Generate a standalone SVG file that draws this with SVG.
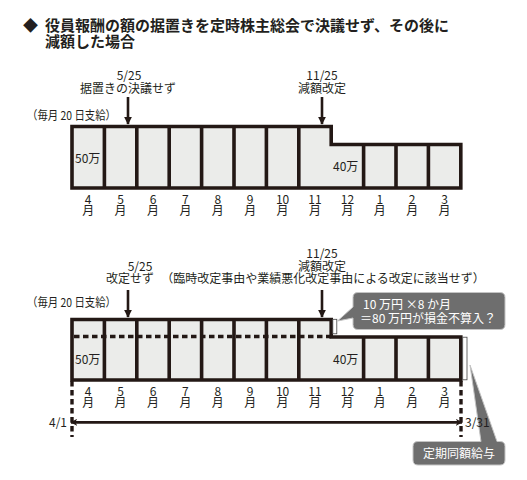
<svg xmlns="http://www.w3.org/2000/svg" width="527" height="480" viewBox="0 0 527 480">
<style>
text{font-family:"Noto Sans CJK JP","Noto Sans",sans-serif;fill:#231f20}
.t{font-size:15px;font-weight:bold}
.s{font-size:12px}
.m{font-size:12px;text-anchor:middle}
.w{font-size:12px;fill:#fff}
.box{fill:#ebecea;stroke:#231815;stroke-width:3.6;stroke-linejoin:miter}
.div{stroke:#231815;stroke-width:3.6}
.dash{stroke:#231815;stroke-width:3.4;stroke-dasharray:5.5 3.5;fill:none}
.arr{stroke:#231815;stroke-width:2.6;fill:none}
.wr{fill:#fff;stroke:#444;stroke-width:0.8}
.call{fill:#6e6e6e;stroke:#c4c4c4;stroke-width:1}
</style>
<defs>
<marker id="ah" viewBox="0 0 10 10" refX="9" refY="5" markerWidth="8" markerHeight="8" markerUnits="userSpaceOnUse" orient="auto">
<path d="M0,0 L10,5 L0,10 Z" fill="#231815"/>
</marker>
<marker id="ah2" viewBox="0 0 10 10" refX="9" refY="5" markerWidth="7" markerHeight="7" markerUnits="userSpaceOnUse" orient="auto-start-reverse">
<path d="M0,0 L10,5 L0,10 L3,5 Z" fill="#231815"/>
</marker>
</defs>
<rect width="527" height="480" fill="#fff"/>

<g id="title">
<text class="t" x="23" y="31">◆</text>
<text class="t" x="45" y="31">役員報酬の額の据置きを定時株主総会で決議せず、その後に</text>
<text class="t" x="45" y="47">減額した場合</text>
</g>

<!-- Chart 1 -->
<g id="chart1">
<polygon class="box" points="72,126.5 331.2,126.5 331.2,144.5 460.8,144.5 460.8,188 72,188"/>
<path class="div" d="M104.4,126.5V188M136.8,126.5V188M169.2,126.5V188M201.6,126.5V188M234,126.5V188M266.4,126.5V188M298.8,126.5V188M363.6,144.5V188M396,144.5V188M428.4,144.5V188"/>
<text class="s" x="75" y="163">50万</text>
<text class="s" x="333" y="170.5">40万</text>
</g>
<g id="chart1-labels">
<text class="s" x="27" y="120" textLength="89" lengthAdjust="spacingAndGlyphs">（毎月 20 日支給）</text>
<text class="m" x="129" y="80">5/25</text>
<text class="m" x="128" y="93">据置きの決議せず</text>
<text class="m" x="322" y="80">11/25</text>
<text class="m" x="322" y="93">減額改定</text>
</g>
<g id="chart1-months">
<text class="m" x="88.2" y="203.5">4<tspan x="88.2" dy="11">月</tspan></text>
<text class="m" x="120.6" y="203.5">5<tspan x="120.6" dy="11">月</tspan></text>
<text class="m" x="153" y="203.5">6<tspan x="153" dy="11">月</tspan></text>
<text class="m" x="185.4" y="203.5">7<tspan x="185.4" dy="11">月</tspan></text>
<text class="m" x="217.8" y="203.5">8<tspan x="217.8" dy="11">月</tspan></text>
<text class="m" x="250.2" y="203.5">9<tspan x="250.2" dy="11">月</tspan></text>
<text class="m" x="282.6" y="203.5">10<tspan x="282.6" dy="11">月</tspan></text>
<text class="m" x="315" y="203.5">11<tspan x="315" dy="11">月</tspan></text>
<text class="m" x="347.4" y="203.5">12<tspan x="347.4" dy="11">月</tspan></text>
<text class="m" x="379.8" y="203.5">1<tspan x="379.8" dy="11">月</tspan></text>
<text class="m" x="412.2" y="203.5">2<tspan x="412.2" dy="11">月</tspan></text>
<text class="m" x="444.6" y="203.5">3<tspan x="444.6" dy="11">月</tspan></text>
</g>

<!-- Chart 2 -->
<g id="chart2">
<polygon class="box" points="72,319.5 331.2,319.5 331.2,337 460.8,337 460.8,380 72,380"/>
<path class="div" d="M104.4,319.5V380M136.8,319.5V380M169.2,319.5V380M201.6,319.5V380M234,319.5V380M266.4,319.5V380M298.8,319.5V380M363.6,337V380M396,337V380M428.4,337V380"/>
<line class="dash" x1="74" y1="336.5" x2="331" y2="336.5"/>
<rect class="wr" x="332.8" y="319.3" width="4" height="14.5"/>
<rect class="wr" x="462.7" y="337.2" width="4.3" height="42.6"/>
<text class="s" x="75" y="364">50万</text>
<text class="s" x="333" y="363.5">40万</text>
</g>

<g id="callout-loss">
<path class="call" d="M358,292.5H500Q505,292.5 505,297.5V324.5Q505,329.5 500,329.5H358Q353,329.5 353,324.5V318L337.5,321L353,307V297.5Q353,292.5 358,292.5Z"/>
<text class="w" x="363" y="309">10 万円 ×8 か月</text>
<text class="w" x="360" y="323">＝80 万円が損金不算入？</text>
</g>
<g id="callout-teiki">
<path class="call" d="M418,441.5H481L470,365L497,441.5H500Q505,441.5 505,446.5V460Q505,465 500,465H418Q413,465 413,460V446.5Q413,441.5 418,441.5Z"/>
<text class="w" x="459" y="458" text-anchor="middle">定期同額給与</text>
</g>

<g id="chart2-labels">
<text class="s" x="27" y="307" textLength="89" lengthAdjust="spacingAndGlyphs">（毎月 20 日支給）</text>
<text class="m" x="140" y="270.5">5/25</text>
<text class="m" x="130" y="282.5">改定せず</text>
<text class="m" x="322" y="257.5">11/25</text>
<text class="m" x="322" y="270.5">減額改定</text>
<text class="m" x="323" y="283">（臨時改定事由や業績悪化改定事由による改定に該当せず）</text>
<text class="s" x="67" y="427" text-anchor="end">4/1</text>
<text class="s" x="465" y="427">3/31</text>
</g>
<g id="chart2-months">
<text class="m" x="88.2" y="396">4<tspan x="88.2" dy="11">月</tspan></text>
<text class="m" x="120.6" y="396">5<tspan x="120.6" dy="11">月</tspan></text>
<text class="m" x="153" y="396">6<tspan x="153" dy="11">月</tspan></text>
<text class="m" x="185.4" y="396">7<tspan x="185.4" dy="11">月</tspan></text>
<text class="m" x="217.8" y="396">8<tspan x="217.8" dy="11">月</tspan></text>
<text class="m" x="250.2" y="396">9<tspan x="250.2" dy="11">月</tspan></text>
<text class="m" x="282.6" y="396">10<tspan x="282.6" dy="11">月</tspan></text>
<text class="m" x="315" y="396">11<tspan x="315" dy="11">月</tspan></text>
<text class="m" x="347.4" y="396">12<tspan x="347.4" dy="11">月</tspan></text>
<text class="m" x="379.8" y="396">1<tspan x="379.8" dy="11">月</tspan></text>
<text class="m" x="412.2" y="396">2<tspan x="412.2" dy="11">月</tspan></text>
<text class="m" x="444.6" y="396">3<tspan x="444.6" dy="11">月</tspan></text>
</g>

<g id="connectors">
<line class="arr" x1="128" y1="97" x2="128" y2="124" marker-end="url(#ah)"/>
<line class="arr" x1="322" y1="97" x2="322" y2="124" marker-end="url(#ah)"/>
<line class="arr" x1="128" y1="290" x2="128" y2="317" marker-end="url(#ah)"/>
<line class="arr" x1="322" y1="290" x2="322" y2="317" marker-end="url(#ah)"/>
<line class="dash" x1="72" y1="381" x2="72" y2="437"/>
<line class="dash" x1="461" y1="381" x2="461" y2="437"/>
<line x1="71" y1="422.3" x2="462" y2="422.3" stroke="#231815" stroke-width="2.8" marker-start="url(#ah2)" marker-end="url(#ah2)"/>
</g>
</svg>
